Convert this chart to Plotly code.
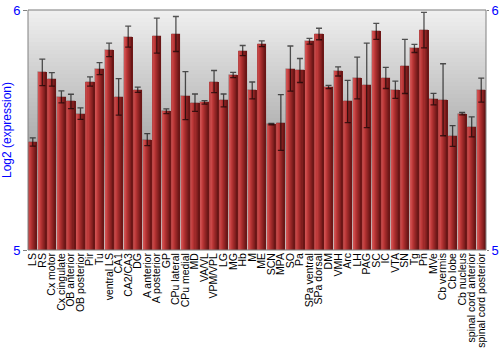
import plotly.graph_objects as go

regions = ["LS", "RS", "Cx motor", "Cx cingulate", "OB anterior", "OB posterior", "Pir", "Tu",
           "ventral LS", "CA1", "CA2/CA3", "DG", "A anterior", "A posterior", "GP", "CPu lateral",
           "CPu medial", "MD", "VA/VL", "VPM/VPL", "LG", "MG", "Hb", "M", "ME", "SCN", "MPA", "SO",
           "Pa", "SPa ventral", "SPa dorsal", "DM", "VMH", "Arc", "LH", "PAG", "SC", "IC", "VTA",
           "SN", "Tg", "Pn", "MVe", "Cb vermis", "Cb lobe", "Cb nucleus", "spinal cord anterior",
           "spinal cord posterior"]

expression = [5.450, 5.740, 5.711, 5.638, 5.619, 5.568, 5.702, 5.756,
              5.834, 5.638, 5.889, 5.668, 5.460, 5.893, 5.578, 5.900,
              5.643, 5.614, 5.615, 5.702, 5.623, 5.729, 5.831, 5.665, 5.859, 5.524, 5.531, 5.756,
              5.748, 5.870, 5.900, 5.679, 5.744, 5.619, 5.717, 5.686, 5.911, 5.717, 5.668,
              5.765, 5.840, 5.916, 5.629, 5.626, 5.475, 5.568, 5.513,
              5.666]

errors = [0.017, 0.055, 0.028, 0.025, 0.030, 0.024, 0.019, 0.025,
          0.028, 0.076, 0.044, 0.011, 0.025, 0.073, 0.010, 0.073,
          0.100, 0.036, 0.007, 0.046, 0.027, 0.011, 0.021, 0.035, 0.012, 0.003, 0.116, 0.094,
          0.050, 0.012, 0.024, 0.007, 0.019, 0.088, 0.087, 0.176, 0.033, 0.044, 0.036,
          0.113, 0.017, 0.074, 0.024, 0.150, 0.043, 0.005, 0.042,
          0.050]

y_ticks = [5, 6]

fig = go.Figure()

n_strips = 8
bar_w = 0.86
light = (214, 86, 86)
mid = (184, 52, 52)
dark = (112, 24, 24)


def lerp(a, b, t):
    return tuple(int(round(a[i] + (b[i] - a[i]) * t)) for i in range(3))


for k in range(n_strips):
    t = k / (n_strips - 1)
    if t < 0.35:
        c = lerp(light, mid, t / 0.35)
    else:
        c = lerp(mid, dark, (t - 0.35) / 0.65)
    sw = bar_w / n_strips
    fig.add_trace(go.Bar(
        x=regions, y=expression,
        width=sw * 1.02, offset=-bar_w / 2 + k * sw,
        marker=dict(color="rgb(%d,%d,%d)" % c, line=dict(width=0)),
        showlegend=False, hoverinfo="skip",
    ))

fig.add_trace(go.Bar(
    x=regions, y=expression, width=bar_w, offset=-bar_w / 2,
    marker=dict(color="rgba(0,0,0,0)", line=dict(width=0.6, color="rgba(90,20,20,0.5)")),
    error_y=dict(type="data", array=errors, visible=True, color="rgba(0,0,0,0.65)",
                 thickness=1.3, width=3),
    showlegend=False,
))

fig.add_trace(go.Scatter(x=[regions[0]], y=[5.5], yaxis="y2", mode="markers",
                         marker=dict(opacity=0), showlegend=False, hoverinfo="skip"))

bands = 60
shapes = []
top_c = (240, 240, 240)
mid_c = (172, 172, 172)
bot_c = (250, 250, 250)
for i in range(bands):
    f = (i + 0.5) / bands
    if f > 0.45:
        c = lerp(mid_c, top_c, (f - 0.45) / 0.55)
    else:
        c = lerp(bot_c, mid_c, f / 0.45)
    shapes.append(dict(type="rect", xref="paper", yref="paper", x0=0, x1=1,
                       y0=i / bands, y1=(i + 1) / bands + 0.002,
                       fillcolor="rgb(%d,%d,%d)" % c, line=dict(width=0), layer="below"))
shapes.append(dict(type="rect", xref="paper", yref="paper", x0=0, x1=1, y0=0, y1=1,
                   line=dict(color="#808080", width=1), layer="above"))

fig.update_layout(
    width=500, height=350,
    margin=dict(l=28, r=14, t=10, b=100, autoexpand=False),
    paper_bgcolor="white", plot_bgcolor="white",
    barmode="overlay", bargap=0,
    shapes=shapes,
    font=dict(family="Liberation Sans, Arial", size=11, color="black"),
    xaxis=dict(tickangle=-90, tickfont=dict(size=10.5, color="black"), showgrid=False,
               tickmode="array", tickvals=regions, ticktext=regions, automargin=False,
               ticks="", showline=False, range=[-0.5, len(regions) - 0.5]),
    yaxis=dict(range=[5, 6], tickvals=y_ticks, tickfont=dict(size=13, color="blue"),
               showgrid=False, zeroline=False, ticks="outside", ticklen=4, tickcolor="#808080",
               showline=False, automargin=False,
               title=dict(text="Log2 (expression)", font=dict(size=12, color="blue"), standoff=2)),
    yaxis2=dict(range=[5, 6], tickvals=y_ticks, overlaying="y", side="right",
                tickfont=dict(size=13, color="blue"), showgrid=False, zeroline=False,
                automargin=False, ticklabelstandoff=0,
                ticks="outside", ticklen=2, tickcolor="#808080", showline=False),
)

fig.write_html("out.html")
